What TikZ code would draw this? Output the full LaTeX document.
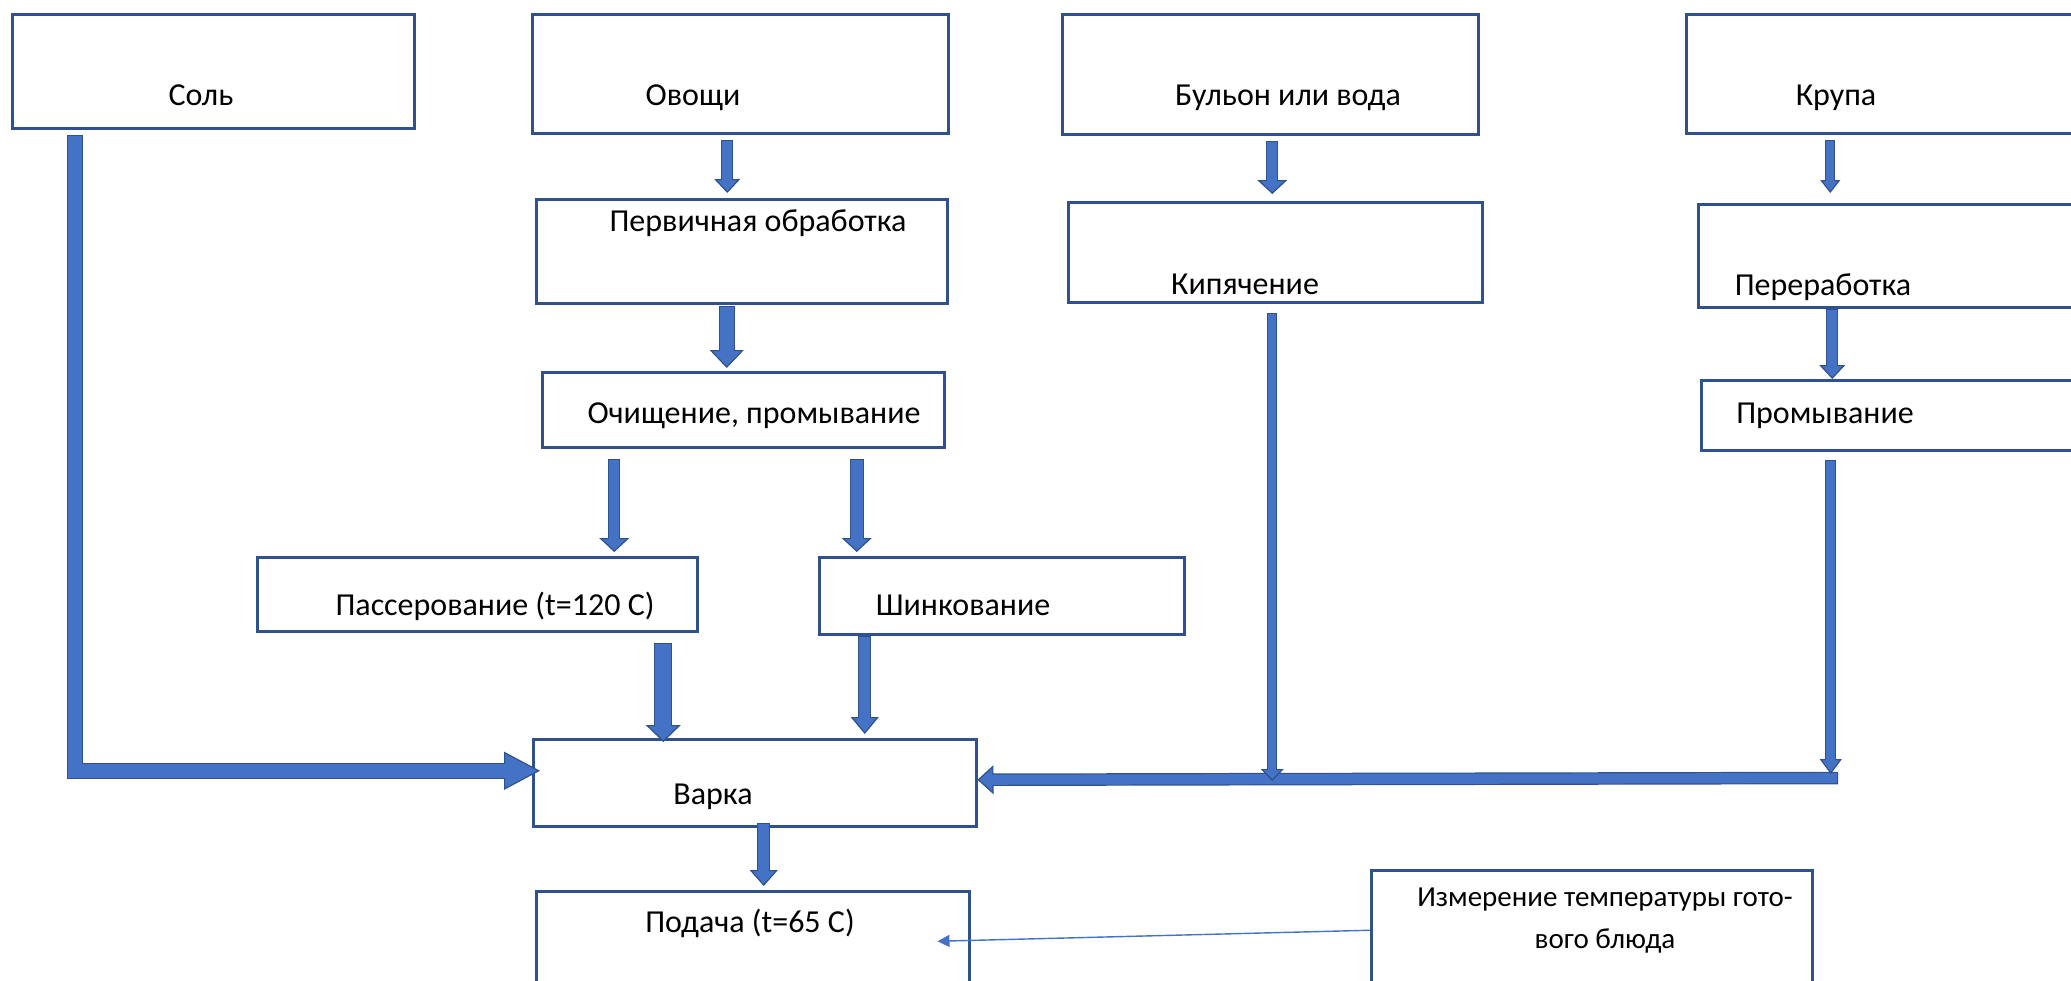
\documentclass[tikz,border=0pt]{standalone}
\usepackage{fontspec}
\setmainfont{Carlito}
\usetikzlibrary{arrows.meta}
\definecolor{bfill}{HTML}{4472C4}
\definecolor{bdark}{HTML}{2F528F}
\begin{document}
\begin{tikzpicture}[x=1pt,y=-1pt,
  box/.style={draw=bdark, line width=2.5pt, fill=white, inner sep=0pt, anchor=north west},
  lbl/.style={font=\fontsize{32}{38}\selectfont, inner sep=0pt, anchor=base},
  flow/.style n args={3}{draw=bdark, line width=#1, line join=miter,
    -{Triangle[length=#3, width=#2, line width=1.2pt, fill=bfill]},
    postaction={draw=bfill, line width=#1-2.4pt, arrows=-, shorten >=#3-4pt, shorten <=1.2pt}},
  thin/.style={draw=bfill, line width=1.4pt, -{Triangle[length=12pt, width=12pt]}}]
\useasboundingbox (0,0) rectangle (2071,980);

% boxes, top row
\node[box, minimum width=402, minimum height=114] (sol) at (11,13) {};
\node[box, minimum width=416, minimum height=119] (ovo) at (531,13) {};
\node[box, minimum width=416, minimum height=120] (bul) at (1061,13) {};
\node[box, minimum width=400, minimum height=119] (kru) at (1685,13) {};
% second row
\node[box, minimum width=411, minimum height=104] (perv) at (535,198) {};
\node[box, minimum width=414, minimum height=100] (kip) at (1067,201) {};
\node[box, minimum width=388, minimum height=103] (per) at (1697,203) {};
\node[box, minimum width=402, minimum height=75] (och) at (541,371) {};
\node[box, minimum width=385, minimum height=70] (prom) at (1700,379) {};
\node[box, minimum width=440, minimum height=74] (pas) at (256,556) {};
\node[box, minimum width=365, minimum height=77] (shin) at (818,556) {};
% bottom
\node[box, minimum width=443, minimum height=87] (var) at (532,738) {};
\node[box, minimum width=433, minimum height=100] (pod) at (535,890) {};
\node[box, minimum width=441, minimum height=120] (izm) at (1370,869) {};

% texts
\node[lbl] (solT) at (201,105) {Соль};
\node[lbl] (ovoT) at (693,105) {Овощи};
\node[lbl] (bulT) at (1288,105) {Бульон или вода};
\node[lbl] (kruT) at (1836,105) {Крупа};
\node[lbl] (pervT) at (758,231) {Первичная обработка};
\node[lbl] (kipT) at (1245,294) {Кипячение};
\node[lbl] (perT) at (1823,295) {Переработка};
\node[lbl] (ochT) at (754,423) {Очищение, промывание};
\node[lbl] (promT) at (1825,423) {Промывание};
\node[lbl] (pasT) at (495,615) {Пассерование (t=120 С)};
\node[lbl] (shinT) at (963,615) {Шинкование};
\node[lbl] (varT) at (713,804) {Варка};
\node[lbl] (podT) at (750,932) {Подача (t=65 С)};
\node[lbl, anchor=center, align=center, font=\fontsize{29}{42}\selectfont] (izmT) at (1605,921)
  {Измерение температуры гото-\\вого блюда};

\coordinate (bus) at (1838,778);

% arrows
\draw[flow={12pt}{26pt}{14pt}] ([xshift=-13pt,yshift=-5pt]ovo.south) -- ([xshift=-13pt,yshift=5pt]ovo.south |- perv.north);
\draw[flow={16pt}{34pt}{18pt}] ([xshift=-15pt,yshift=-1pt]perv.south) -- ([xshift=-15pt,yshift=3pt]perv.south |- och.north);
\draw[flow={12pt}{30pt}{14pt}] ([xshift=137pt,yshift=-10pt]pas.north |- och.south) -- ([xshift=137pt,yshift=4pt]pas.north);
\draw[flow={14pt}{30pt}{14pt}] ([xshift=-145pt,yshift=-10pt]shin.north |- och.south) -- ([xshift=-145pt,yshift=4pt]shin.north);
\draw[flow={18pt}{35pt}{17pt}] ([xshift=186pt,yshift=-10pt]pas.south) -- ([xshift=186pt,yshift=-4pt]pas.south |- var.north);
\draw[flow={13pt}{28pt}{17pt}] ([xshift=-137pt]shin.south) -- ([xshift=-137pt,yshift=4pt]shin.south |- var.north);
\draw[flow={13pt}{28pt}{16pt}] ([xshift=9pt,yshift=5pt]var.south) -- ([xshift=9pt,yshift=4pt]var.south |- pod.north);
\draw[flow={12pt}{30pt}{14pt}] ([xshift=2pt,yshift=-5pt]bul.south) -- ([xshift=2pt,yshift=7pt]bul.south |- kip.north);
\draw[flow={10pt}{20pt}{13pt}] ([xshift=-56pt,yshift=-5pt]kru.south) -- ([xshift=-56pt,yshift=10pt]kru.south |- per.north);
\draw[flow={12pt}{26pt}{14pt}] ([xshift=-60pt]per.south) -- ([xshift=-60pt]per.south |- prom.north);
\draw[flow={12.5pt}{29pt}{16pt}] (bus) -- ([yshift=3pt]var.east);
\draw[flow={10pt}{23pt}{12pt}] ([xshift=-3pt,yshift=-9pt]kip.south) -- ([xshift=-3pt,yshift=-3pt]kip.south |- bus);
\draw[flow={11pt}{22pt}{15pt}] ([xshift=-63pt,yshift=-8pt]prom.south) -- ([xshift=-63pt,yshift=4pt]prom.south |- bus);
\draw[flow={16pt}{38pt}{36pt}] ([xshift=-138pt,yshift=-5pt]sol.south) |- ([xshift=8pt,yshift=12pt]var.west);
\draw[thin] (izm.west) -- ([xshift=-33pt]pod.east);
\end{tikzpicture}
\end{document}
